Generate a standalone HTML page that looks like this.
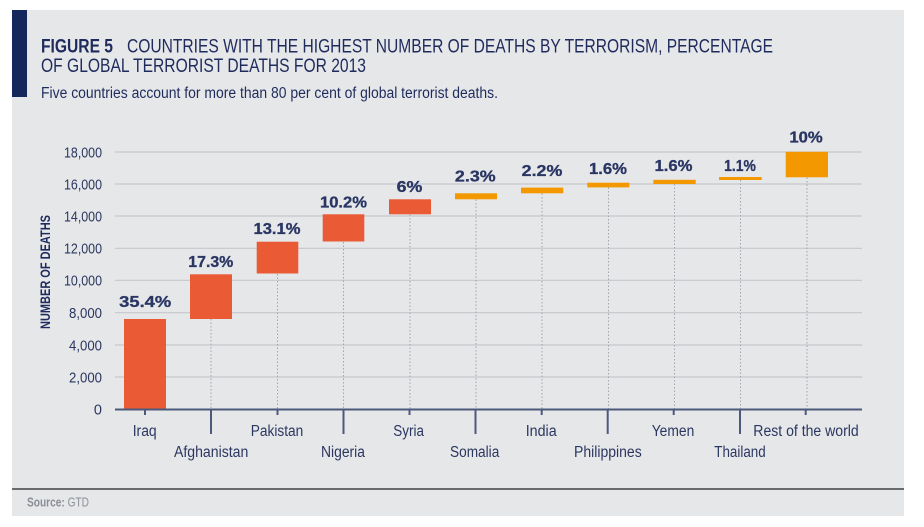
<!DOCTYPE html>
<html><head><meta charset="utf-8"><style>
html,body{margin:0;padding:0;background:#fff;}
svg{display:block;}
text{font-family:"Liberation Sans",sans-serif;}
</style></head><body>
<svg width="924" height="527" viewBox="0 0 924 527" xmlns="http://www.w3.org/2000/svg">
<rect x="0" y="0" width="924" height="527" fill="#fff"/>
<rect x="12" y="10" width="892" height="506" fill="#e6e7e9"/>
<rect x="12" y="10" width="15" height="87" fill="#15285c"/>

<!-- Title -->
<text x="41" y="52.5" font-size="19.5" fill="#1f2b5c"><tspan font-weight="bold" textLength="72" lengthAdjust="spacingAndGlyphs">FIGURE 5</tspan></text>
<text x="127" y="52.5" font-size="19.5" fill="#1f2b5c" textLength="646" lengthAdjust="spacingAndGlyphs">COUNTRIES WITH THE HIGHEST NUMBER OF DEATHS BY TERRORISM, PERCENTAGE</text>
<text x="41" y="72" font-size="19.5" fill="#1f2b5c" textLength="325" lengthAdjust="spacingAndGlyphs">OF GLOBAL TERRORIST DEATHS FOR 2013</text>
<text x="41" y="98" font-size="15.5" fill="#1f2b5c" textLength="457" lengthAdjust="spacingAndGlyphs">Five countries account for more than 80 per cent of global terrorist deaths.</text>

<!-- gridlines -->
<g stroke="#c6c7cb" stroke-width="1.2">
<line x1="115" y1="152" x2="862" y2="152"/>
<line x1="115" y1="184" x2="862" y2="184"/>
<line x1="115" y1="216" x2="862" y2="216"/>
<line x1="115" y1="248.3" x2="862" y2="248.3"/>
<line x1="115" y1="280.3" x2="862" y2="280.3"/>
<line x1="115" y1="312.7" x2="862" y2="312.7"/>
<line x1="115" y1="345" x2="862" y2="345"/>
<line x1="115" y1="377" x2="862" y2="377"/>
</g>

<!-- y tick labels -->
<g font-size="14.5" fill="#2b3760" text-anchor="end">
<text x="102" y="157.3" textLength="38" lengthAdjust="spacingAndGlyphs">18,000</text>
<text x="102" y="189.3" textLength="38" lengthAdjust="spacingAndGlyphs">16,000</text>
<text x="102" y="221.3" textLength="38" lengthAdjust="spacingAndGlyphs">14,000</text>
<text x="102" y="253.5" textLength="38" lengthAdjust="spacingAndGlyphs">12,000</text>
<text x="102" y="285.5" textLength="38" lengthAdjust="spacingAndGlyphs">10,000</text>
<text x="102" y="318" textLength="33" lengthAdjust="spacingAndGlyphs">8,000</text>
<text x="102" y="350.3" textLength="33" lengthAdjust="spacingAndGlyphs">4,000</text>
<text x="102" y="382.3" textLength="33" lengthAdjust="spacingAndGlyphs">2,000</text>
<text x="102" y="414.5">0</text>
</g>

<!-- y axis title -->
<text transform="translate(50,272) rotate(-90)" text-anchor="middle" font-size="14" font-weight="bold" fill="#1f2b5c" textLength="114" lengthAdjust="spacingAndGlyphs">NUMBER OF DEATHS</text>

<!-- dotted connectors -->
<g stroke="#a3a5ae" stroke-width="1" stroke-dasharray="1.5 2">
<line x1="211" y1="319" x2="211" y2="409"/>
<line x1="277.5" y1="274" x2="277.5" y2="409"/>
<line x1="343.5" y1="242" x2="343.5" y2="409"/>
<line x1="410" y1="214.5" x2="410" y2="409"/>
<line x1="476" y1="199.5" x2="476" y2="409"/>
<line x1="542" y1="193.5" x2="542" y2="409"/>
<line x1="608.5" y1="187.5" x2="608.5" y2="409"/>
<line x1="674.5" y1="184" x2="674.5" y2="409"/>
<line x1="740.5" y1="180" x2="740.5" y2="409"/>
<line x1="807" y1="177.5" x2="807" y2="409"/>
</g>

<!-- bars -->
<g fill="#ea5a35">
<rect x="124" y="319" width="42" height="90"/>
<rect x="190" y="274.3" width="42" height="44.7"/>
<rect x="256.7" y="241.7" width="41.6" height="31.8"/>
<rect x="322.7" y="214.3" width="41.6" height="27.2"/>
<rect x="389" y="199.3" width="42" height="15"/>
</g>
<g fill="#f39800">
<rect x="455" y="193.3" width="42" height="6"/>
<rect x="521" y="187.6" width="42.3" height="5.7"/>
<rect x="587.3" y="182.7" width="42" height="4.7"/>
<rect x="653.3" y="179.8" width="42.4" height="4.2"/>
<rect x="719" y="177" width="42.7" height="3"/>
<rect x="785.7" y="151.8" width="42.3" height="25.5"/>
</g>

<!-- value labels -->
<g font-size="15.5" font-weight="bold" fill="#2a3663" stroke="#2a3663" stroke-width="0.3" text-anchor="middle">
<text x="145.2" y="307" textLength="52" lengthAdjust="spacingAndGlyphs">35.4%</text>
<text x="210.8" y="267" textLength="45" lengthAdjust="spacingAndGlyphs">17.3%</text>
<text x="277" y="234" textLength="47" lengthAdjust="spacingAndGlyphs">13.1%</text>
<text x="343.5" y="207.5" textLength="47" lengthAdjust="spacingAndGlyphs">10.2%</text>
<text x="409.5" y="192" textLength="25.7" lengthAdjust="spacingAndGlyphs">6%</text>
<text x="475.3" y="181.5" textLength="40.7" lengthAdjust="spacingAndGlyphs">2.3%</text>
<text x="542" y="176" textLength="40.7" lengthAdjust="spacingAndGlyphs">2.2%</text>
<text x="608" y="174" textLength="38" lengthAdjust="spacingAndGlyphs">1.6%</text>
<text x="673.5" y="171" textLength="38" lengthAdjust="spacingAndGlyphs">1.6%</text>
<text x="740" y="171" textLength="31.7" lengthAdjust="spacingAndGlyphs">1.1%</text>
<text x="806" y="142.5" textLength="33.3" lengthAdjust="spacingAndGlyphs">10%</text>
</g>

<!-- axis & ticks -->
<g stroke="#4b5a7c" stroke-width="2">
<line x1="115" y1="409.5" x2="862" y2="409.5"/>
<line x1="145" y1="409" x2="145" y2="415"/>
<line x1="211" y1="409" x2="211" y2="434"/>
<line x1="277.5" y1="409" x2="277.5" y2="415"/>
<line x1="343.5" y1="409" x2="343.5" y2="434"/>
<line x1="409.5" y1="409" x2="409.5" y2="415"/>
<line x1="475.5" y1="409" x2="475.5" y2="434"/>
<line x1="541.7" y1="409" x2="541.7" y2="415"/>
<line x1="607.7" y1="409" x2="607.7" y2="434"/>
<line x1="673.7" y1="409" x2="673.7" y2="415"/>
<line x1="740" y1="409" x2="740" y2="434"/>
<line x1="805.7" y1="409" x2="805.7" y2="415"/>
</g>

<!-- category labels -->
<g font-size="15.5" fill="#2b3760">
<text x="132.7" y="436" textLength="24" lengthAdjust="spacingAndGlyphs">Iraq</text>
<text x="174" y="457" textLength="74.3" lengthAdjust="spacingAndGlyphs">Afghanistan</text>
<text x="250.7" y="436" textLength="52.6" lengthAdjust="spacingAndGlyphs">Pakistan</text>
<text x="321" y="457" textLength="44" lengthAdjust="spacingAndGlyphs">Nigeria</text>
<text x="393.3" y="436" textLength="30.7" lengthAdjust="spacingAndGlyphs">Syria</text>
<text x="450" y="457" textLength="49.3" lengthAdjust="spacingAndGlyphs">Somalia</text>
<text x="525.7" y="436" textLength="31" lengthAdjust="spacingAndGlyphs">India</text>
<text x="574" y="457" textLength="67.7" lengthAdjust="spacingAndGlyphs">Philippines</text>
<text x="651.7" y="436" textLength="42.6" lengthAdjust="spacingAndGlyphs">Yemen</text>
<text x="714.3" y="457" textLength="51.4" lengthAdjust="spacingAndGlyphs">Thailand</text>
<text x="753.3" y="436" textLength="105.4" lengthAdjust="spacingAndGlyphs">Rest of the world</text>
</g>

<!-- footer -->
<line x1="12" y1="489" x2="904" y2="489" stroke="#6a6b6e" stroke-width="2"/>
<text x="27" y="506.5" font-size="12.5" fill="#8a8e98" textLength="62" lengthAdjust="spacingAndGlyphs"><tspan font-weight="bold">Source:</tspan> GTD</text>
</svg>
</body></html>
